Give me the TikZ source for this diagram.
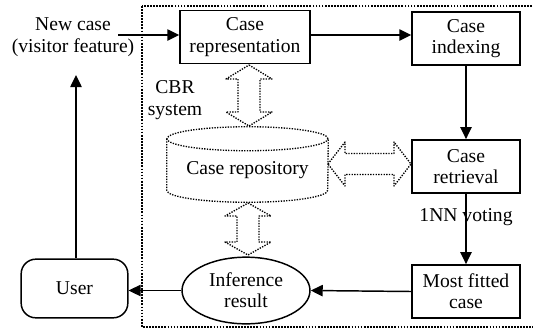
\documentclass[tikz,border=0pt]{standalone}
\usepackage{fontspec}
\setmainfont{Liberation Serif}
\usetikzlibrary{arrows.meta,shapes.geometric,positioning}

\begin{document}
\begin{tikzpicture}[x=0.75pt,y=-0.75pt,>={Triangle[length=9pt,width=8.5pt]},
		font=\fontsize{14.7}{16}\selectfont,align=center,
		box/.style={draw,line width=1.1pt,minimum width=81pt,minimum height=40pt,inner sep=1pt},
		flow/.style={->,line width=1.1pt},
		hollow/.style={draw,densely dotted,line width=1pt,line join=round},
		rim/.style={densely dotted,line width=1pt}]
			\useasboundingbox (0,0) rectangle (533,330);
			\clip (0,0) rectangle (533,330);
			% CBR system border
			\draw[densely dotted,line width=1.3pt] (142,6) rectangle (545,327);
			\node[box,minimum width=97.5pt] (rep) at (245,37) {Case\\representation};
			\node[box] (idx) at (466,38.5) {Case\\indexing};
			\node[box] (ret) at (466,166.5) {Case\\retrieval};
			\node[box] (fit) at (466,291.5) {Most fitted\\case};
			\node[ellipse,draw,line width=1.1pt,minimum width=96pt,minimum height=50pt,inner sep=0pt] (inf) at (246,290.5) {Inference\\result};
			\node[draw,rounded corners=11pt,line width=1.1pt,minimum width=80pt,minimum height=44pt] (user) at (74.5,288.5) {User};
			\node (newcase) at (73,37) {New case\\(visitor feature)};
			\node (cbr) at (175,100) {CBR\\system};
			\node[minimum width=120.75pt,minimum height=47.25pt] (repo) at (247.5,170.5) {Case repository};
			% repository cylinder
			\draw[rim] (repo.north) ellipse [x radius=60.375pt,y radius=9pt];
			\draw[rim] (repo.north west) -- ([yshift=9pt]repo.south west)
				arc [start angle=180,end angle=360,x radius=60.375pt,y radius=9pt] -- (repo.north east);
			% hollow double arrows
			\draw[hollow] (249,65) -- (272,79) -- (260,79) -- (260,112) -- (272,112) -- (249,126)
				-- (226,112) -- (238,112) -- (238,79) -- (226,79) -- cycle;
			\draw[hollow] (328,164) -- (345,142) -- (345,153.5) -- (394,153.5) -- (394,142) -- (411,164)
				-- (394,186) -- (394,174.5) -- (345,174.5) -- (345,186) -- cycle;
			\draw[hollow] (248,203) -- (271,216) -- (259,216) -- (259,242) -- (271,242) -- (248,255)
				-- (225,242) -- (237,242) -- (237,216) -- (225,216) -- cycle;
			% flow
			\coordinate (nc) at (118,35);
			\coordinate (ut) at (76,75);
			\draw[flow] (nc) -- (nc -| rep.west);
			\draw[flow] ([yshift=1.5pt]rep.east) -- ([yshift=1.5pt]rep.east -| idx.west);
			\draw[flow] (idx) -- (ret);
			\draw[flow] (ret) -- node[pos=0.33] {1NN voting} (fit);
			\draw[flow] (fit.west) -- (inf.east);
			\draw[flow] (inf.west) -- (inf.west -| user.east);
			\draw[flow] (user.north -| ut) -- (ut);
		\end{tikzpicture}
\end{document}
